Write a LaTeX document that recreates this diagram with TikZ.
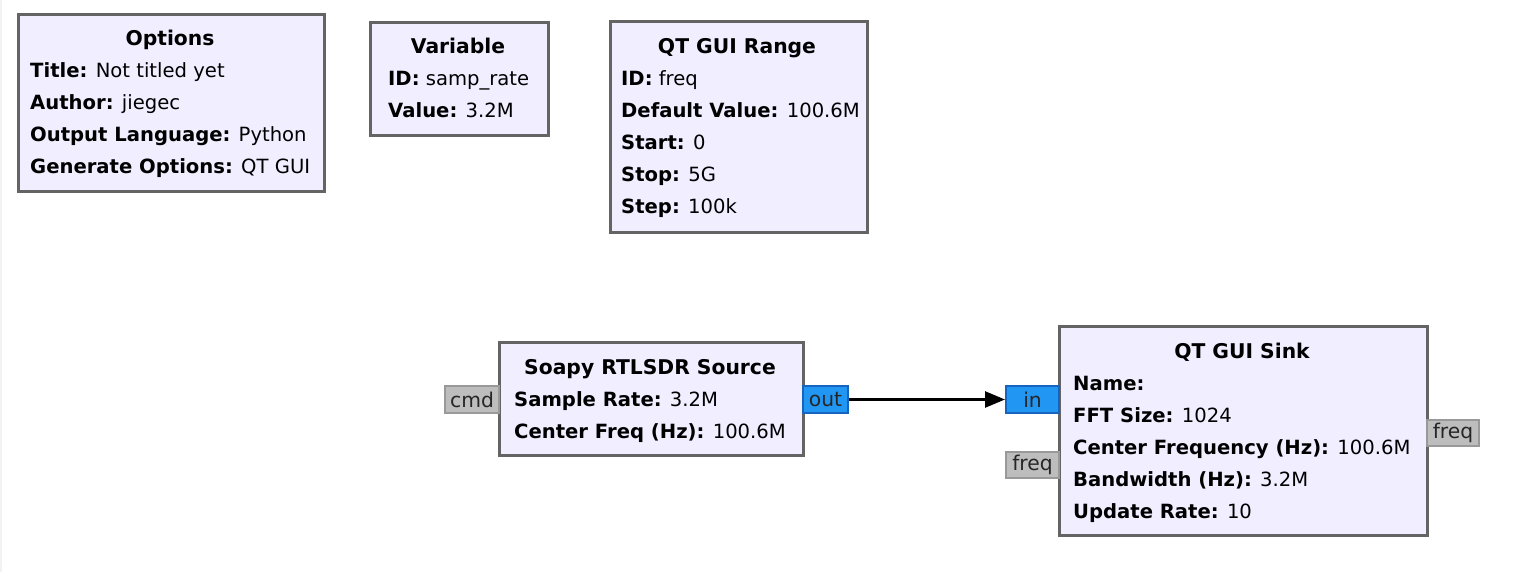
\documentclass[tikz,border=0pt]{standalone}
\usepackage{fontspec}
\setmainfont{DejaVu Sans}
\usetikzlibrary{arrows.meta,positioning}
\definecolor{blkfill}{HTML}{F1EEFF}
\definecolor{blkline}{HTML}{646464}
\definecolor{cplx}{HTML}{2196F3}
\definecolor{cplxline}{HTML}{1565C0}
\definecolor{msg}{HTML}{BDBDBD}
\definecolor{msgline}{HTML}{999999}

\begin{document}
\begin{tikzpicture}[x=1pt,y=-1pt,
  blk/.style={draw=blkline, line width=3pt, fill=blkfill, anchor=north west, inner sep=0pt},
  ttl/.style={font=\fontsize{20.3}{24}\selectfont\bfseries, anchor=base, inner sep=0pt},
  prm/.style={font=\fontsize{19.6}{24}\selectfont, anchor=base west, inner sep=0pt},
  port/.style={anchor=north west, inner sep=0pt, line width=2pt, text=black!85,
    font=\fontsize{20.3}{24}\selectfont},
  msgport/.style={port, draw=msgline, fill=msg},
  cplxport/.style={port, draw=cplxline, fill=cplx}]
\useasboundingbox (0,0) rectangle (1532,572);
\fill[black!5] (0,0) rectangle (2,572);

% blocks
\node[blk, minimum width=306pt, minimum height=177pt] (opt) at (17,13) {};
\node[blk, minimum width=178pt, minimum height=113pt] (var) at (369,21) {};
\node[blk, minimum width=257pt, minimum height=211pt] (rng) at (609,20) {};
\node[blk, minimum width=304pt, minimum height=113pt] (src) at (498,341) {};
\node[blk, minimum width=368pt, minimum height=209pt] (snk) at (1058,325) {};

% titles
\node[ttl] (optT) at (170,46) {Options};
\node[ttl] (varT) at (458,54) {Variable};
\node[ttl] (rngT) at (737,54) {QT GUI Range};
\node[ttl] (srcT) at (650,374) {Soapy RTLSDR Source};
\node[ttl] (snkT) at (1242,358) {QT GUI Sink};

% parameters
\foreach \t [count=\i from 0] in {{\textbf{Title:} Not titled yet},
    {\textbf{Author:} jiegec}, {\textbf{Output Language:} Python},
    {\textbf{Generate Options:} QT GUI}}
  \node[prm] (optL\i) at (30,{78+32*\i}) {\t};
\foreach \t [count=\i from 0] in {{\textbf{ID:} samp\_rate}, {\textbf{Value:} 3.2M}}
  \node[prm] (varL\i) at (388,{86+32*\i}) {\t};
\foreach \t [count=\i from 0] in {{\textbf{ID:} freq},
    {\textbf{Default Value:} 100.6M}, {\textbf{Start:} 0},
    {\textbf{Stop:} 5G}, {\textbf{Step:} 100k}}
  \node[prm] (rngL\i) at (621,{86+32*\i}) {\t};
\foreach \t [count=\i from 0] in {{\textbf{Sample Rate:} 3.2M},
    {\textbf{Center Freq (Hz):} 100.6M}}
  \node[prm] (srcL\i) at (514,{406+32*\i}) {\t};
\foreach \t [count=\i from 0] in {{\textbf{Name:}}, {\textbf{FFT Size:} 1024},
    {\textbf{Center Frequency (Hz):} 100.6M}, {\textbf{Bandwidth (Hz):} 3.2M},
    {\textbf{Update Rate:} 10}}
  \node[prm] (snkL\i) at (1073,{390+32*\i}) {\t};

% ports
\node[msgport, minimum width=54pt, minimum height=27pt] (cmd) at (444,385) {cmd};
\node[cplxport, minimum width=45pt, minimum height=27pt] (out) at (802,385) {out};
\node[cplxport, minimum width=53pt, minimum height=27pt] (in) at (1005,385) {in};
\node[msgport, minimum width=53pt, minimum height=26pt] (freqin) at (1005,451) {freq};
\node[msgport, minimum width=52pt, minimum height=26pt] (freqout) at (1426,419) {freq};

% connection
\draw[line width=2.5pt, -{Triangle[length=20pt,width=16pt]}] (out) -- (in);
\end{tikzpicture}
\end{document}
